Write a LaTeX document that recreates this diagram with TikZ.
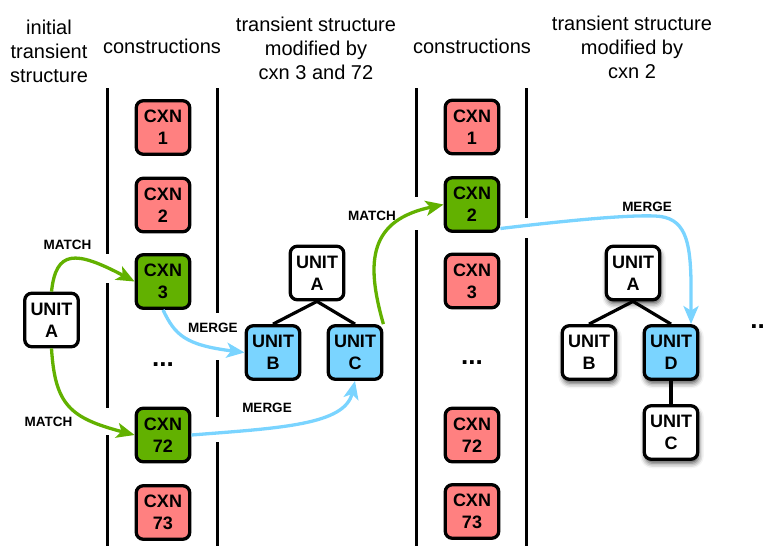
\documentclass[tikz,border=0pt]{standalone}
\usepackage{fontspec}
\setmainfont{Liberation Sans}
\usetikzlibrary{arrows.meta,shadows.blur}
\definecolor{cxnred}{RGB}{255,128,128}
\definecolor{cxngreen}{RGB}{98,177,0}
\definecolor{unitblue}{RGB}{122,212,255}
\definecolor{arrowgreen}{RGB}{98,177,0}
\definecolor{arrowblue}{RGB}{122,212,255}
\begin{document}
\begin{tikzpicture}[x=1pt,y=-1pt,
  box/.style={draw=black, line width=3.3pt, rounded corners=7pt, minimum width=53.5pt, minimum height=53.5pt, inner sep=0pt, align=center, font=\bfseries\fontsize{18}{22}\selectfont},
  redbox/.style={box, fill=cxnred},
  greenbox/.style={box, fill=cxngreen},
  bluebox/.style={box, fill=unitblue},
  whitebox/.style={box, fill=white},
  shadowed/.style={blur shadow={shadow xshift=1pt, shadow yshift=-4pt, shadow blur radius=5pt, shadow opacity=70}},
  header/.style={align=center, font=\fontsize{20}{24}\selectfont},
  lbl/.style={font=\bfseries\fontsize{13.5}{16}\selectfont},
  dotsnode/.style={font=\bfseries\fontsize{26}{26}\selectfont},
  colline/.style={line width=3pt},
  treeedge/.style={line width=3.2pt},
  garrow/.style={line width=3.3pt, draw=arrowgreen, -{Stealth[length=18pt,width=15pt,inset=4.5pt]}},
  barrow/.style={line width=3.3pt, draw=arrowblue, -{Stealth[length=18pt,width=15pt,inset=4.5pt]}}
]
\useasboundingbox (0,0) rectangle (766,546);
\clip (0,0) rectangle (766,546);

% headers
\node[header] (h1) at (49,51) {initial\\transient\\structure};
\node[header] (h2) at (162,46) {constructions};
\node[header] (h3) at (316,48) {transient structure\\modified by\\cxn 3 and 72};
\node[header] (h4) at (472,46) {constructions};
\node[header] (h5) at (632,47) {transient structure\\modified by\\cxn 2};

% column lines
\draw[colline] (107,88) -- (107,254) (107,283) -- (107,408) (107,435) -- (107,546);
\draw[colline] (217,88) -- (217,313) (217,360) -- (217,417) (217,442) -- (217,546);
\draw[colline] (416,88) -- (416,197) (416,230) -- (416,546);
\draw[colline] (526,88) -- (526,218) (526,238) -- (526,546);

% initial unit
\node[whitebox] (ua) at (51.5,320) {UNIT\\A};

% constructions column 1
\node[redbox] (c1) at (163,127.5) {CXN\\1};
\node[redbox] (c2) at (163,205) {CXN\\2};
\node[greenbox] (c3) at (163,281.5) {CXN\\3};
\node[dotsnode] (cd) at (163,365) {...};
\node[greenbox] (c72) at (163,435) {CXN\\72};
\node[redbox] (c73) at (163,512.5) {CXN\\73};

% constructions column 2
\node[redbox] (d1) at (472,127) {CXN\\1};
\node[greenbox] (d2) at (472,204.5) {CXN\\2};
\node[redbox] (d3) at (472,281) {CXN\\3};
\node[dotsnode] (dd) at (472,363) {...};
\node[redbox] (d72) at (472,435) {CXN\\72};
\node[redbox] (d73) at (472,511.5) {CXN\\73};

% middle tree
\node[whitebox] (ma) at (317,273) {UNIT\\A};
\node[bluebox] (mb) at (273,352.5) {UNIT\\B};
\node[bluebox] (mc) at (355,352.5) {UNIT\\C};
\draw[treeedge] (ma.south) -- (mb.north);
\draw[treeedge] (ma.south) -- (mc.north);

% right tree
\node[whitebox,shadowed] (ra) at (633,273) {UNIT\\A};
\node[whitebox,shadowed] (rb) at (589,352.5) {UNIT\\B};
\node[bluebox,shadowed] (rd) at (671,352.5) {UNIT\\D};
\node[whitebox,shadowed] (rc) at (671,432.5) {UNIT\\C};
\draw[treeedge] (ra.south) -- (rb.north);
\draw[treeedge] (ra.south) -- (rd.north);
\draw[treeedge] (rd.south) -- (rc.north);

\node[dotsnode, anchor=east, inner sep=1pt] (rdots) at (766,327) {..};

% labels
\node[lbl] (l1) at (67.5,245) {MATCH};
\node[lbl] (l2) at (48.5,422) {MATCH};
\node[lbl] (l3) at (213,328) {MERGE};
\node[lbl] (l4) at (267,408) {MERGE};
\node[lbl] (l5) at (372,216) {MATCH};
\node[lbl] (l6) at (647,207) {MERGE};

% arrows
\draw[garrow] (ua.north) .. controls (56,250) and (75,250) .. (c3.west);
\draw[garrow] (ua.south) .. controls (55,405) and (70,418) .. (c72.west);
\draw[barrow] (c3.south) .. controls (175,335) and (185,345) .. (mb.west);
\draw[barrow] (c72.east) .. controls (280,428) and (345,425) .. (mc.south);
\draw[garrow] (mc.north east) .. controls (365,260) and (370,220) .. (d2.west);
\draw[barrow] ([yshift=-24pt]d2.east) .. controls (580,219) and (630,215) .. (655,216) .. controls (685,217) and (690,240) .. (691,280) -- ([xshift=20pt]rd.north);
\end{tikzpicture}
\end{document}
